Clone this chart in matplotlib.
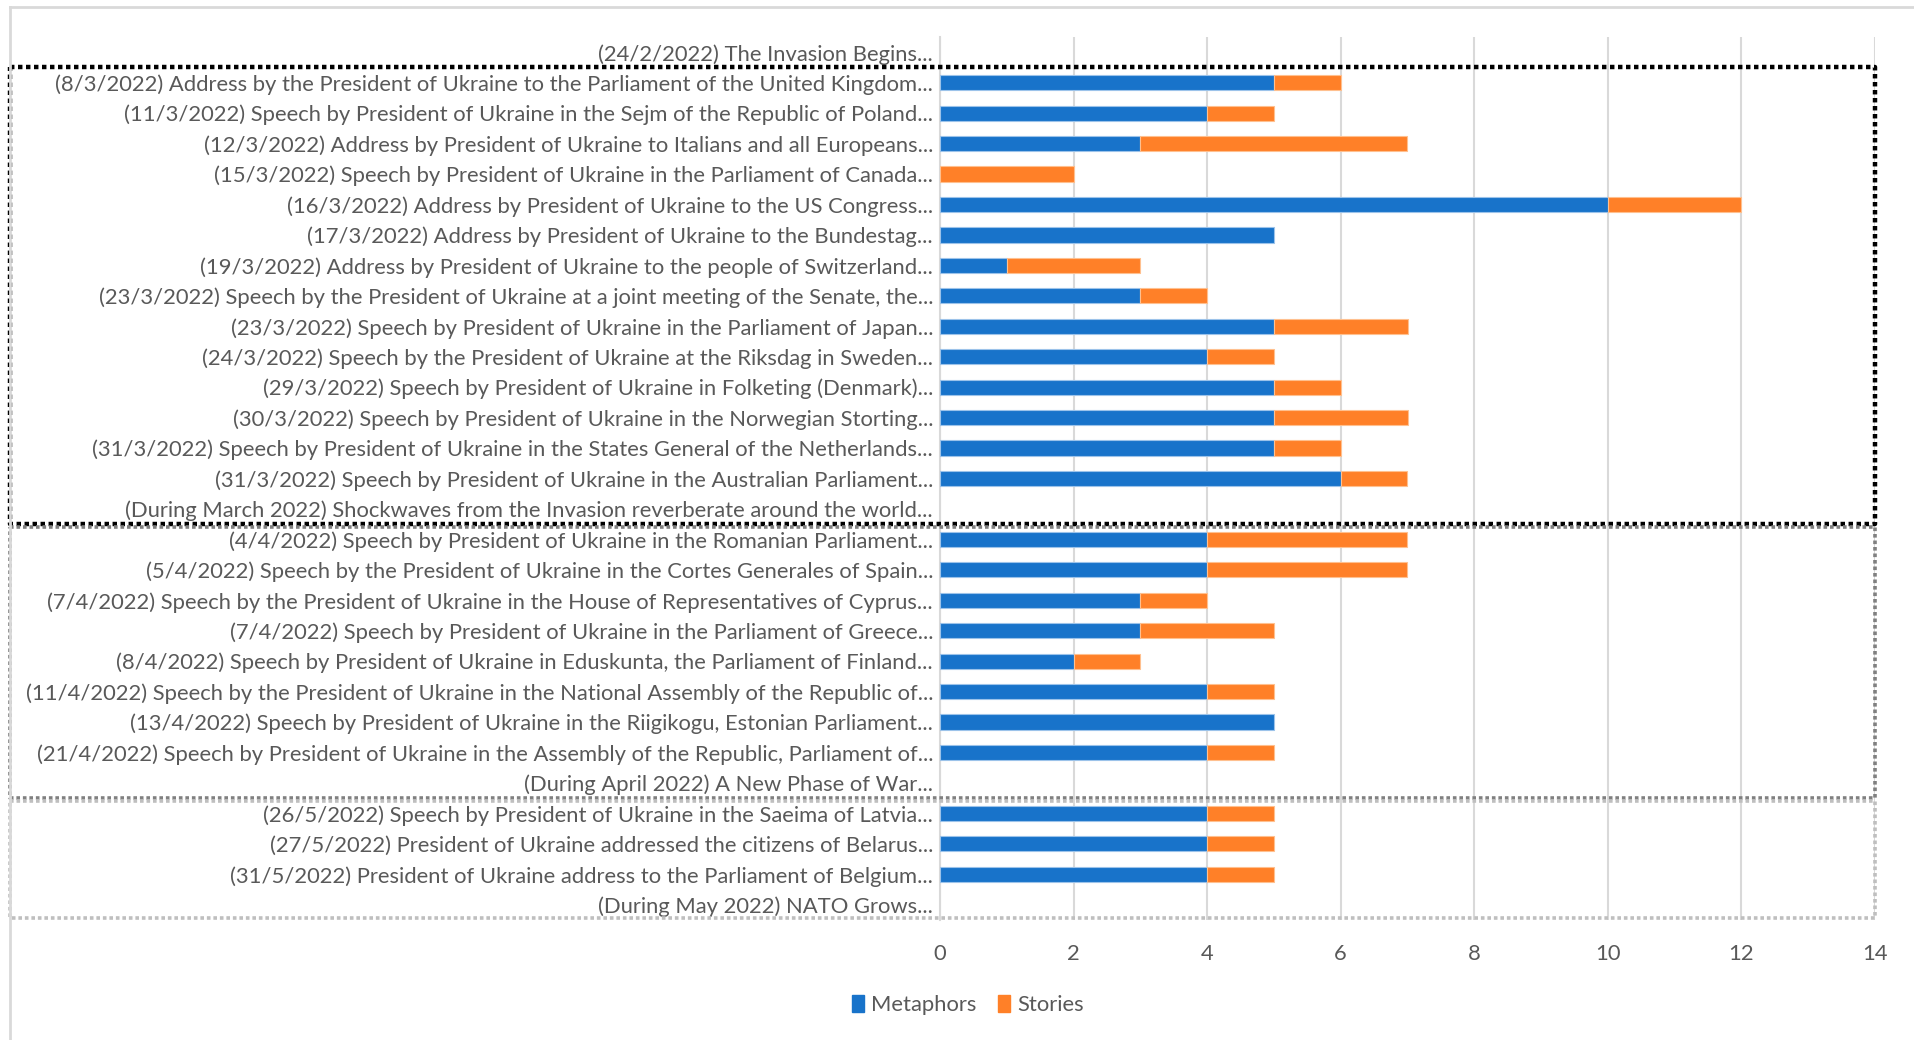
import numpy as np
import matplotlib.pyplot as plt
from matplotlib.lines import Line2D
from matplotlib.patches import Patch
import matplotlib.transforms as mtransforms

plt.rcParams['font.family'] = ['Lato', 'DejaVu Sans']

labels = [
    "(24/2/2022) The Invasion Begins...",
    "(8/3/2022) Address by the President of Ukraine to the Parliament of the United Kingdom...",
    "(11/3/2022) Speech by President of Ukraine in the Sejm of the Republic of Poland...",
    "(12/3/2022) Address by President of Ukraine to Italians and all Europeans...",
    "(15/3/2022) Speech by President of Ukraine in the Parliament of Canada...",
    "(16/3/2022) Address by President of Ukraine to the US Congress...",
    "(17/3/2022) Address by President of Ukraine to the Bundestag...",
    "(19/3/2022) Address by President of Ukraine to the people of Switzerland...",
    "(23/3/2022) Speech by the President of Ukraine at a joint meeting of the Senate, the...",
    "(23/3/2022) Speech by President of Ukraine in the Parliament of Japan...",
    "(24/3/2022) Speech by the President of Ukraine at the Riksdag in Sweden...",
    "(29/3/2022) Speech by President of Ukraine in Folketing (Denmark)...",
    "(30/3/2022) Speech by President of Ukraine in the Norwegian Storting...",
    "(31/3/2022) Speech by President of Ukraine in the States General of the Netherlands...",
    "(31/3/2022) Speech by President of Ukraine in the Australian Parliament...",
    "(During March 2022) Shockwaves from the Invasion reverberate around the world...",
    "(4/4/2022) Speech by President of Ukraine in the Romanian Parliament...",
    "(5/4/2022) Speech by the President of Ukraine in the Cortes Generales of Spain...",
    "(7/4/2022) Speech by the President of Ukraine in the House of Representatives of Cyprus...",
    "(7/4/2022) Speech by President of Ukraine in the Parliament of Greece...",
    "(8/4/2022) Speech by President of Ukraine in Eduskunta, the Parliament of Finland...",
    "(11/4/2022) Speech by the President of Ukraine in the National Assembly of the Republic of...",
    "(13/4/2022) Speech by President of Ukraine in the Riigikogu, Estonian Parliament...",
    "(21/4/2022) Speech by President of Ukraine in the Assembly of the Republic, Parliament of...",
    "(During April 2022) A New Phase of War...",
    "(26/5/2022) Speech by President of Ukraine in the Saeima of Latvia...",
    "(27/5/2022) President of Ukraine addressed the citizens of Belarus...",
    "(31/5/2022) President of Ukraine address to the Parliament of Belgium...",
    "(During May 2022) NATO Grows...",
]
metaphors = [0, 5, 4, 3, 0, 10, 5, 1, 3, 5, 4, 5, 5, 5, 6, 0,
             4, 4, 3, 3, 2, 4, 5, 4, 0, 4, 4, 4, 0]
stories = [0, 1, 1, 4, 2, 2, 0, 2, 1, 2, 1, 1, 2, 1, 1, 0,
           3, 3, 1, 2, 1, 1, 0, 1, 0, 1, 1, 1, 0]

blue = '#1873CA'
orange = '#FF8028'
grey_txt = '#595959'
fs = 15.8

fig = plt.figure(figsize=(19.15, 10.4), dpi=100)
ax = fig.add_axes([940/1915, 1-920/1040, (1875-940)/1915, (920-37)/1040])

y = np.arange(len(labels))
m = np.array(metaphors)
s = np.array(stories)
ax.barh(y, m, height=0.5, color=blue, edgecolor='#9cc3ea',
        linewidth=np.where(m > 0, 0.8, 0), label='Metaphors', zorder=3)
ax.barh(y, s, left=m, height=0.5, color=orange, edgecolor='#ffc08f',
        linewidth=np.where(s > 0, 0.8, 0), label='Stories', zorder=3)

ax.set_xlim(0, 14)
ax.set_ylim(len(labels)-0.5, -0.5)
ax.set_xticks(range(0, 15, 2))
ax.set_yticks(y)
ax.set_yticklabels(labels)
ax.tick_params(axis='both', length=0, labelsize=fs, colors=grey_txt)
ax.tick_params(axis='y', pad=5)
ax.tick_params(axis='x', pad=17)
ax.grid(axis='x', color='#D9D9D9', linewidth=1.5, zorder=0)
for sp in ['top', 'right', 'bottom']:
    ax.spines[sp].set_visible(False)
ax.spines['left'].set_color('#D9D9D9')
ax.spines['left'].set_linewidth(1.5)

# section boxes: each starts after the first event / a "During" label
starts = [0] + [i for i, l in enumerate(labels) if l.startswith('(During')]
box_styles = [('black', 3.2), ('#808080', 2.6), ('#BFBFBF', 2.6)]
trans = mtransforms.blended_transform_factory(fig.transFigure, ax.transData)
x0, x1 = 10/1915, 1875/1915
for k in range(len(starts)-1):
    top = starts[k] + 0.5 + (0.1 if k > 0 else 0)
    bot = starts[k+1] + 0.5
    if k == len(starts) - 2:
        bot = starts[k+1] + 0.45
    col, lw = box_styles[k]
    xs = [x0, x1, x1, x0, x0]
    ys = [top, top, bot, bot, top]
    ax.add_line(Line2D(xs, ys, transform=trans, color=col, lw=lw,
                       linestyle=(0, (1, 0.8)), dash_capstyle='butt', clip_on=False, zorder=5))

# outer chart border (top and left)
fig.add_artist(Line2D([10/1915, 1], [1-7/1040, 1-7/1040], color='#D9D9D9', lw=2, transform=fig.transFigure))
fig.add_artist(Line2D([10/1915, 10/1915], [0, 1-7/1040], color='#D9D9D9', lw=2, transform=fig.transFigure))

handles = [Patch(color=blue), Patch(color=orange)]
fig.legend(handles, ['Metaphors', 'Stories'], loc='center', bbox_to_anchor=(968/1915, 1-1005/1040),
           ncol=2, frameon=False, handlelength=0.55, handleheight=0.8, handletextpad=0.3,
           columnspacing=1.0, fontsize=fs, labelcolor=grey_txt)

fig.savefig('out.png', dpi=100)
